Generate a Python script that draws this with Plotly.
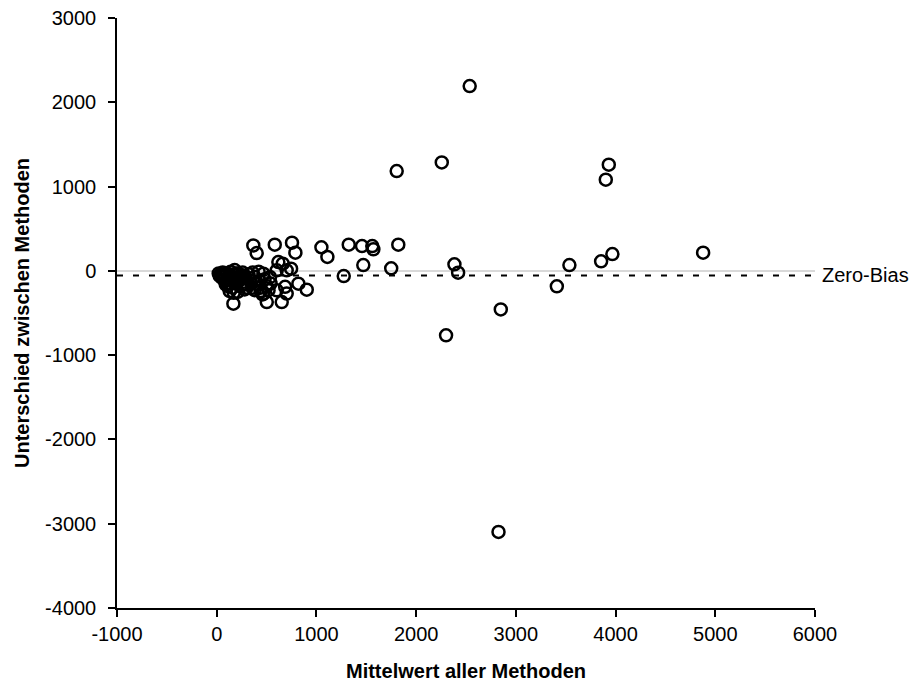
import plotly.graph_objects as go

# Mittelwert aller Methoden (x) and Unterschied zwischen Methoden (y)
mean_vals = [
    2537, 1805, 2257, 3932, 3902, 2826, 2849, 3411, 3537, 3855, 3968, 4878,
    1821, 2384, 2421, 2300, 1050, 1110, 1324, 1457, 1560, 1571, 1470, 1274, 1750,
    582, 755, 789, 367, 401, 618, 662, 702, 746, 602, 819, 903, 702, 652, 502,
    602, 535, 468, 167, 440, 470, 520, 540, 686,
    20, 30, 40, 50, 60, 70, 80, 90, 100, 110, 120, 130, 140, 150, 160, 170,
    180, 190, 200, 210, 220, 230, 240, 250, 260, 270, 280, 290, 300, 320, 340,
    360, 380, 400, 420, 440, 460, 480, 500, 170, 130, 110, 60, 90, 150, 250,
    330, 200, 280, 380, 430, 360, 300,
]
diff_vals = [
    2192, 1184, 1287, 1260, 1082, -3098, -457, -184, 69, 113, 199, 216,
    311, 77, -21, -765, 280, 165, 311, 294, 294, 255, 69, -62, 30,
    311, 334, 216, 302, 211, 104, 85, 6, 26, 6, -152, -223, -270, -370, -370,
    -231, -74, -33, -389, -200, -270, -230, -150, -190,
    -30, -60, -40, -80, -50, -100, -60, -120, -30, -90, -150, -60, -10, -120, -200, -40,
    10, -80, -150, -250, -30, -110, -180, -60, -20, -130, -220, -90, -160, -40, -120,
    -200, -70, -150, -10, -240, -280, -100, -180, -260, -240, -180, -20, -160, -70, -90,
    -110, -30, -60, -230, -120, -20, -200,
]

zero_bias = -55
x_range = [-1000, 6000]
y_range = [-4000, 3000]
x_ticks = [-1000, 0, 1000, 2000, 3000, 4000, 5000, 6000]
y_ticks = [-4000, -3000, -2000, -1000, 0, 1000, 2000, 3000]
x_ticktext = ["-1000", "0", "1000", "2000", "3000", "4000", "5000", "6000"]
y_ticktext = ["-4000", "-3000", "-2000", "-1000", "0", "1000", "2000", "3000"]

font_family = "Liberation Sans, Arial, sans-serif"

fig = go.Figure()

fig.add_trace(go.Scatter(
    x=x_range, y=[zero_bias, zero_bias], mode="lines",
    line=dict(color="black", width=2, dash="6px,10px"),
    hoverinfo="skip", showlegend=False,
))

fig.add_trace(go.Scatter(
    x=mean_vals, y=diff_vals, mode="markers",
    marker=dict(symbol="circle-open", size=12, color="black",
                line=dict(color="black", width=2.5)),
    showlegend=False,
))

fig.add_annotation(
    x=1.0, xref="paper", y=zero_bias, yref="y",
    text="Zero-Bias", showarrow=False, xanchor="left", yanchor="middle",
    xshift=5, font=dict(family=font_family, size=20, color="black"),
)

fig.add_annotation(
    x=0, xref="paper", y=0.5, yref="paper",
    text="<b>Unterschied zwischen Methoden</b>", showarrow=False,
    textangle=-90, xanchor="center", yanchor="middle", xshift=-95,
    font=dict(family=font_family, size=20, color="black"),
)

axis_common = dict(
    showgrid=False, showline=True, linecolor="black", linewidth=1.5,
    ticks="outside", ticklen=7, tickwidth=1.5, tickcolor="black",
    tickfont=dict(family=font_family, size=20, color="black"),
    ticklabeloverflow="allow", automargin=False,
    mirror=False,
)

fig.update_xaxes(
    range=x_range, tickvals=x_ticks, ticktext=x_ticktext, zeroline=False,
    title=dict(text="<b>Mittelwert aller Methoden</b>",
               font=dict(family=font_family, size=20, color="black"), standoff=20),
    **axis_common,
)
fig.update_yaxes(
    range=y_range, tickvals=y_ticks, ticktext=y_ticktext, zeroline=True,
    zerolinecolor="#d9d9d9", zerolinewidth=1.5,
    ticklabelstandoff=8,
    **axis_common,
)

fig.update_layout(
    width=920, height=690,
    margin=dict(l=109, r=113, t=10, b=90, autoexpand=False),
    plot_bgcolor="white", paper_bgcolor="white",
    font=dict(family=font_family, color="black"),
)

fig.write_html("out.html")
